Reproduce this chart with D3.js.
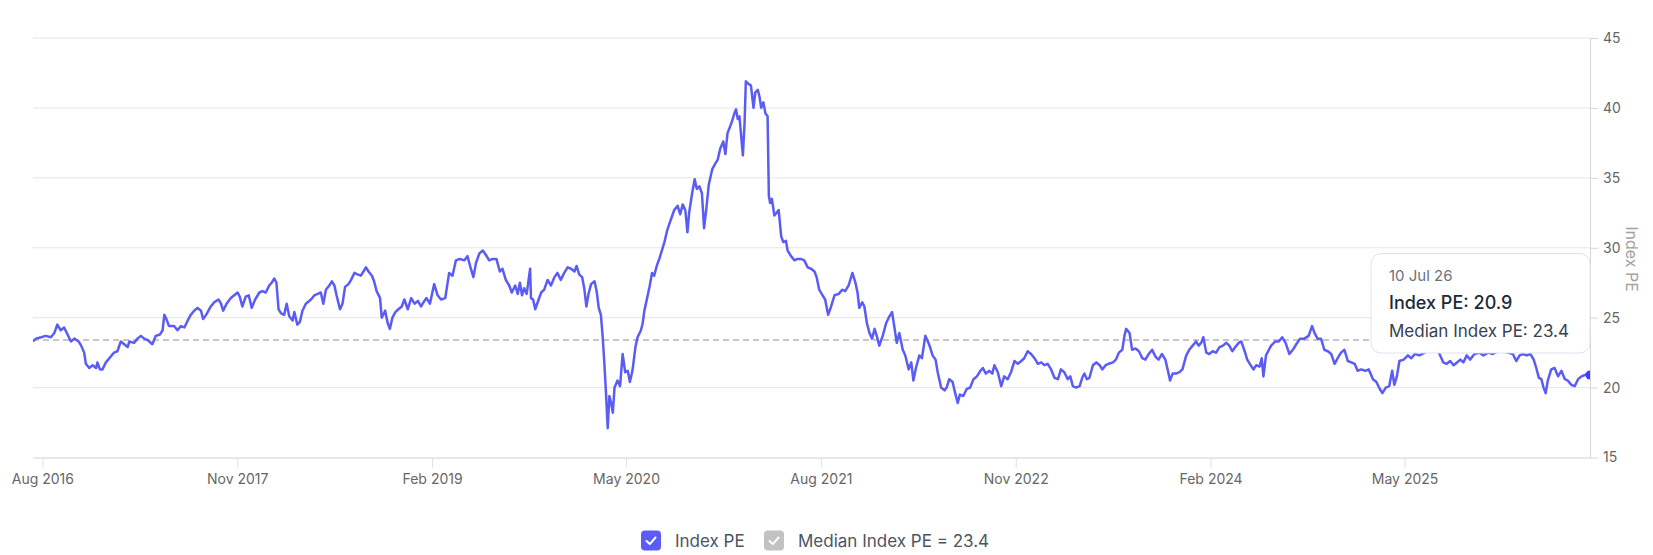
<!DOCTYPE html>
<html>
<head>
<meta charset="utf-8">
<script src="https://cdn.jsdelivr.net/npm/d3@7"></script>
<style>
    body { margin: 0; background: #fff; }
    #chart svg { display: block; font-family: Inter, "Noto Sans", sans-serif; }
</style>
</head>
<body>
<div id="chart"></div>
<script>
// Index PE (roughly weekly samples)
const peSeries = [
    ["2016-07-10",23.3],["2016-07-17",23.5],["2016-07-29",23.6],["2016-08-09",23.7],["2016-08-21",23.6],["2016-08-29",23.9],["2016-09-05",24.5],["2016-09-13",24.1],["2016-09-21",24.3],["2016-09-29",23.8],["2016-10-07",23.3],["2016-10-15",23.5],["2016-10-25",23.3],["2016-10-31",23.0],["2016-11-07",22.5],["2016-11-11",21.7],["2016-11-19",21.4],["2016-11-27",21.6],["2016-12-05",21.4],["2016-12-08",21.8],["2016-12-14",21.3],["2016-12-20",21.3],["2016-12-28",21.8],
    ["2017-01-05",22.1],["2017-01-16",22.5],["2017-01-24",22.6],["2017-02-01",23.3],["2017-02-09",23.1],["2017-02-17",22.9],["2017-02-21",23.3],["2017-03-04",23.2],["2017-03-12",23.5],["2017-03-20",23.7],["2017-03-28",23.5],["2017-04-05",23.4],["2017-04-16",23.1],["2017-04-24",23.7],["2017-05-04",23.8],["2017-05-10",24.1],["2017-05-14",25.2],["2017-05-19",24.9],["2017-05-25",24.4],["2017-06-06",24.4],["2017-06-14",24.1],["2017-06-22",24.4],["2017-06-30",24.3],["2017-07-08",24.8],["2017-07-15",25.2],["2017-07-23",25.5],["2017-07-31",25.7],["2017-08-08",25.5],["2017-08-13",24.9],["2017-08-20",25.2],["2017-08-31",25.8],["2017-09-08",26.1],["2017-09-18",26.3],["2017-09-24",26.0],["2017-09-29",25.5],["2017-10-07",26.0],["2017-10-17",26.4],["2017-10-25",26.6],["2017-11-02",26.8],["2017-11-07",26.5],["2017-11-13",25.8],["2017-11-21",26.5],["2017-11-28",26.6],["2017-12-05",25.7],["2017-12-13",26.3],["2017-12-23",26.8],["2017-12-30",26.9],
    ["2018-01-07",26.8],["2018-01-15",27.3],["2018-01-21",27.5],["2018-01-27",27.8],["2018-02-01",27.5],["2018-02-06",25.6],["2018-02-12",25.3],["2018-02-19",25.2],["2018-02-25",26.0],["2018-03-03",25.1],["2018-03-11",24.8],["2018-03-15",25.4],["2018-03-22",24.5],["2018-03-28",24.7],["2018-04-03",25.5],["2018-04-11",26.0],["2018-04-23",26.3],["2018-05-01",26.6],["2018-05-09",26.7],["2018-05-16",26.8],["2018-05-22",26.0],["2018-05-28",27.0],["2018-06-05",27.3],["2018-06-11",27.6],["2018-06-17",27.3],["2018-06-22",26.6],["2018-06-30",25.6],["2018-07-06",26.0],["2018-07-12",27.2],["2018-07-20",27.4],["2018-07-26",27.7],["2018-08-03",28.2],["2018-08-10",28.1],["2018-08-18",28.0],["2018-08-24",28.3],["2018-08-30",28.6],["2018-09-05",28.3],["2018-09-13",28.0],["2018-09-18",27.6],["2018-09-24",26.9],["2018-10-02",26.4],["2018-10-06",25.0],["2018-10-14",25.5],["2018-10-20",24.6],["2018-10-25",24.2],["2018-10-31",25.0],["2018-11-07",25.4],["2018-11-14",25.6],["2018-11-22",25.8],["2018-11-28",26.3],["2018-12-06",25.6],["2018-12-14",26.4],["2018-12-22",26.0],["2018-12-30",26.2],
    ["2019-01-06",25.8],["2019-01-14",26.2],["2019-01-19",26.4],["2019-01-27",26.0],["2019-02-06",27.4],["2019-02-14",26.6],["2019-02-22",26.3],["2019-03-04",26.4],["2019-03-13",28.2],["2019-03-21",28.0],["2019-03-29",29.1],["2019-04-07",29.2],["2019-04-18",29.1],["2019-04-25",29.4],["2019-05-03",28.5],["2019-05-09",27.9],["2019-05-15",28.9],["2019-05-23",29.6],["2019-05-31",29.8],["2019-06-07",29.5],["2019-06-15",29.1],["2019-06-23",29.2],["2019-07-02",29.2],["2019-07-10",28.3],["2019-07-16",28.5],["2019-07-24",27.7],["2019-08-01",27.3],["2019-08-07",26.8],["2019-08-15",27.3],["2019-08-21",26.7],["2019-08-26",27.5],["2019-08-31",26.6],["2019-09-05",27.1],["2019-09-11",26.7],["2019-09-19",28.5],["2019-09-21",26.4],["2019-09-26",26.3],["2019-10-01",25.6],["2019-10-09",26.3],["2019-10-15",26.8],["2019-10-22",27.0],["2019-10-30",27.7],["2019-11-07",27.3],["2019-11-15",27.9],["2019-11-22",28.2],["2019-11-30",27.7],["2019-12-08",28.2],["2019-12-16",28.6],["2019-12-24",28.5],
    ["2020-01-01",28.3],["2020-01-06",28.7],["2020-01-12",28.1],["2020-01-19",27.9],["2020-01-24",27.1],["2020-01-29",25.8],["2020-02-03",26.7],["2020-02-09",27.4],["2020-02-17",27.6],["2020-02-22",26.9],["2020-02-27",25.7],["2020-03-03",25.2],["2020-03-07",23.7],["2020-03-11",21.8],["2020-03-15",19.6],["2020-03-19",17.1],["2020-03-23",19.4],["2020-03-27",18.9],["2020-03-31",18.2],["2020-04-04",20.0],["2020-04-11",20.5],["2020-04-17",20.1],["2020-04-23",22.4],["2020-04-29",21.1],["2020-05-05",21.2],["2020-05-10",20.4],["2020-05-16",21.2],["2020-05-23",22.9],["2020-05-28",23.6],["2020-06-05",24.1],["2020-06-09",24.6],["2020-06-13",25.5],["2020-06-18",26.2],["2020-06-25",27.2],["2020-07-01",28.2],["2020-07-06",28.0],["2020-07-12",28.7],["2020-07-18",29.2],["2020-07-24",29.8],["2020-07-30",30.4],["2020-08-06",31.3],["2020-08-14",32.0],["2020-08-22",32.7],["2020-08-30",33.0],["2020-09-05",32.4],["2020-09-11",33.1],["2020-09-17",32.7],["2020-09-22",31.1],["2020-09-26",32.5],["2020-10-03",33.9],["2020-10-09",34.9],["2020-10-14",34.2],["2020-10-20",34.4],["2020-10-26",33.9],["2020-10-31",31.4],["2020-11-05",32.7],["2020-11-11",34.5],["2020-11-19",35.6],["2020-11-26",36.0],["2020-12-02",36.3],["2020-12-08",37.1],["2020-12-15",37.6],["2020-12-20",36.7],["2020-12-25",38.2],
    ["2021-01-03",38.9],["2021-01-10",39.6],["2021-01-14",39.9],["2021-01-18",39.2],["2021-01-22",39.4],["2021-01-26",38.0],["2021-01-30",36.6],["2021-02-03",38.9],["2021-02-06",41.9],["2021-02-13",41.7],["2021-02-18",41.6],["2021-02-24",40.0],["2021-02-28",41.1],["2021-03-06",41.3],["2021-03-10",40.8],["2021-03-14",40.0],["2021-03-19",40.4],["2021-03-24",39.6],["2021-03-29",39.4],["2021-04-01",33.7],["2021-04-04",33.2],["2021-04-08",33.5],["2021-04-14",32.3],["2021-04-19",32.5],["2021-04-24",32.7],["2021-04-30",30.8],["2021-05-05",30.4],["2021-05-11",30.5],["2021-05-15",29.8],["2021-05-23",29.4],["2021-05-31",29.1],["2021-06-07",29.2],["2021-06-15",29.2],["2021-06-23",29.1],["2021-07-01",28.6],["2021-07-09",28.5],["2021-07-17",28.3],["2021-07-22",27.9],["2021-07-28",27.0],["2021-08-05",26.6],["2021-08-11",26.3],["2021-08-18",25.2],["2021-08-25",25.8],["2021-09-02",26.6],["2021-09-12",26.7],["2021-09-20",27.0],["2021-09-27",26.9],["2021-10-05",27.3],["2021-10-14",28.2],["2021-10-21",27.5],["2021-10-26",26.8],["2021-10-30",25.7],["2021-11-06",26.1],["2021-11-11",25.8],["2021-11-17",24.6],["2021-11-23",23.9],["2021-11-29",23.5],["2021-12-05",24.2],["2021-12-10",23.7],["2021-12-16",23.0],["2021-12-24",23.7],
    ["2022-01-01",24.6],["2022-01-07",25.0],["2022-01-15",25.4],["2022-01-20",24.4],["2022-01-26",23.2],["2022-02-01",23.9],["2022-02-09",22.7],["2022-02-15",22.3],["2022-02-23",21.3],["2022-03-01",21.8],["2022-03-06",20.5],["2022-03-12",21.4],["2022-03-20",22.3],["2022-03-26",22.1],["2022-04-03",23.7],["2022-04-09",23.3],["2022-04-14",22.9],["2022-04-20",22.3],["2022-04-27",22.0],["2022-05-02",21.1],["2022-05-10",20.0],["2022-05-18",19.8],["2022-05-23",20.0],["2022-05-29",20.6],["2022-06-06",20.4],["2022-06-12",19.6],["2022-06-18",18.9],["2022-06-23",19.5],["2022-07-01",19.4],["2022-07-09",19.9],["2022-07-17",20.0],["2022-07-25",20.6],["2022-08-02",20.8],["2022-08-10",21.2],["2022-08-16",21.4],["2022-08-23",21.0],["2022-08-31",21.2],["2022-09-07",21.0],["2022-09-12",21.6],["2022-09-20",21.1],["2022-09-28",20.1],["2022-10-05",20.8],["2022-10-13",20.6],["2022-10-21",21.1],["2022-10-29",21.9],["2022-11-06",21.7],["2022-11-14",21.9],["2022-11-21",22.1],["2022-11-29",22.6],["2022-12-07",22.4],["2022-12-15",22.1],["2022-12-23",21.7],["2022-12-31",21.8],
    ["2023-01-07",21.6],["2023-01-15",21.7],["2023-01-23",21.3],["2023-01-31",20.7],["2023-02-08",20.6],["2023-02-15",21.3],["2023-02-23",21.1],["2023-03-03",20.6],["2023-03-09",20.8],["2023-03-15",20.1],["2023-03-23",20.0],["2023-03-31",20.1],["2023-04-06",20.7],["2023-04-11",21.0],["2023-04-17",20.6],["2023-04-23",20.7],["2023-05-01",21.6],["2023-05-09",21.8],["2023-05-17",21.6],["2023-05-23",21.3],["2023-05-31",21.6],["2023-06-07",21.7],["2023-06-17",21.8],["2023-06-24",22.0],["2023-07-01",22.5],["2023-07-09",22.7],["2023-07-14",23.7],["2023-07-18",24.2],["2023-07-26",23.9],["2023-08-01",22.7],["2023-08-09",22.8],["2023-08-17",22.6],["2023-08-25",22.1],["2023-09-01",22.0],["2023-09-09",22.4],["2023-09-17",22.7],["2023-09-25",22.2],["2023-10-02",22.0],["2023-10-10",22.4],["2023-10-18",22.0],["2023-10-24",21.2],["2023-10-29",20.5],["2023-11-04",21.0],["2023-11-12",21.0],["2023-11-20",21.1],["2023-11-27",21.3],["2023-12-06",22.3],["2023-12-13",22.7],["2023-12-21",23.0],["2023-12-29",23.3],
    ["2024-01-04",23.0],["2024-01-10",23.2],["2024-01-15",23.6],["2024-01-22",22.5],["2024-01-29",22.4],["2024-02-06",22.6],["2024-02-14",22.5],["2024-02-22",22.9],["2024-03-01",23.0],["2024-03-09",23.2],["2024-03-16",23.0],["2024-03-23",22.6],["2024-03-30",22.9],["2024-04-07",23.2],["2024-04-13",23.3],["2024-04-21",22.6],["2024-04-27",22.0],["2024-05-05",21.6],["2024-05-12",21.3],["2024-05-18",21.6],["2024-05-26",21.5],["2024-05-31",22.1],["2024-06-04",20.8],["2024-06-10",22.3],["2024-06-22",23.0],["2024-07-02",23.3],["2024-07-10",23.3],["2024-07-18",23.6],["2024-07-26",23.2],["2024-08-04",22.4],["2024-08-12",22.7],["2024-08-20",23.1],["2024-08-29",23.5],["2024-09-08",23.5],["2024-09-18",23.7],["2024-09-26",24.4],["2024-10-02",23.9],["2024-10-09",23.5],["2024-10-17",23.5],["2024-10-25",22.7],["2024-11-02",22.6],["2024-11-10",22.4],["2024-11-18",21.7],["2024-11-25",22.1],["2024-12-03",22.5],["2024-12-11",22.7],["2024-12-19",21.9],["2024-12-27",21.8],
    ["2025-01-04",21.7],["2025-01-11",21.2],["2025-01-19",21.3],["2025-01-29",21.2],["2025-02-06",21.3],["2025-02-16",20.6],["2025-02-24",20.4],["2025-03-04",19.9],["2025-03-10",19.6],["2025-03-18",20.0],["2025-03-26",20.1],["2025-04-02",21.2],["2025-04-07",20.2],["2025-04-13",20.8],["2025-04-19",21.9],["2025-04-29",22.0],["2025-05-09",22.3],["2025-05-17",22.1],["2025-05-25",22.4],["2025-06-05",22.3],["2025-06-17",22.5],["2025-06-25",22.7],["2025-07-06",22.9],["2025-07-14",23.0],["2025-07-22",22.4],["2025-07-31",21.8],["2025-08-08",21.7],["2025-08-16",21.9],["2025-08-24",21.6],["2025-09-01",21.8],["2025-09-09",22.0],["2025-09-16",21.8],["2025-09-24",22.3],["2025-10-02",22.0],["2025-10-12",22.4],["2025-10-24",22.5],["2025-11-02",22.3],["2025-11-13",22.5],["2025-11-24",22.4],["2025-12-06",22.6],["2025-12-18",22.7],["2025-12-29",22.5],
    ["2026-01-10",22.4],["2026-01-18",21.9],["2026-01-26",22.3],["2026-02-03",22.4],["2026-02-11",22.3],["2026-02-20",22.4],["2026-02-28",22.0],["2026-03-06",21.4],["2026-03-12",20.7],["2026-03-18",20.6],["2026-03-23",20.0],["2026-03-28",19.6],["2026-04-02",20.5],["2026-04-10",21.3],["2026-04-18",21.4],["2026-04-26",20.8],["2026-05-04",21.2],["2026-05-12",20.6],["2026-05-19",20.5],["2026-05-27",20.2],["2026-06-04",20.1],["2026-06-12",20.6],["2026-06-20",20.8],["2026-06-28",20.9],["2026-07-04",21.0],["2026-07-10",20.9]
];
const medianPE = 23.4;
const dateRange = ["2016-07-10", "2026-07-10"];
const xTickLabels = ["Aug 2016", "Nov 2017", "Feb 2019", "May 2020", "Aug 2021", "Nov 2022", "Feb 2024", "May 2025"];
const yTicks = [15, 20, 25, 30, 35, 40, 45];
const legendItems = [
    { label: "Index PE", color: "#5b5cf6" },
    { label: `Median Index PE = ${medianPE}`, color: "#c2c2c2" }
];

(function drawChart() {
    const width = 1653;
    const height = 555;
    const plot = { left: 33, right: 1590, top: 38, bottom: 457.5 };
    const lineColor = "#5b5cf6";

    const parseDay = d3.timeParse("%Y-%m-%d");
    const parseTick = d3.timeParse("%b %Y");
    const data = peSeries.map(([d, v]) => ({ date: parseDay(d), value: v }));

    const svg = d3.select("#chart").append("svg")
        .attr("width", width)
        .attr("height", height);

    const x = d3.scaleTime()
        .domain(dateRange.map(parseDay))
        .range([plot.left, plot.right]);
    const y = d3.scaleLinear()
        .domain([15, 45])
        .range([plot.bottom, plot.top]);

    svg.append("defs").append("clipPath")
        .attr("id", "plot-clip")
        .append("rect")
        .attr("x", plot.left)
        .attr("y", plot.top - 10)
        .attr("width", plot.right - plot.left)
        .attr("height", plot.bottom - plot.top + 10);

    // horizontal grid
    svg.append("g")
        .selectAll("line")
        .data(yTicks.filter(t => t !== 15))
        .join("line")
        .attr("x1", plot.left)
        .attr("x2", plot.right)
        .attr("y1", d => y(d))
        .attr("y2", d => y(d))
        .attr("stroke", "#e6e6e6")
        .attr("stroke-width", 1);

    // x axis
    const xAxis = svg.append("g")
        .attr("transform", `translate(0,${plot.bottom})`)
        .call(d3.axisBottom(x)
            .tickValues(xTickLabels.map(parseTick))
            .tickFormat(d3.timeFormat("%b %Y"))
            .tickSize(10)
            .tickSizeOuter(0)
            .tickPadding(6.5));
    xAxis.select(".domain").attr("stroke", "#cfcfcf");
    xAxis.selectAll(".tick line").attr("stroke", "#e0e0e0");
    xAxis.selectAll(".tick text")
        .attr("fill", "#666")
        .attr("font-size", 14)
        .attr("font-family", "Inter, sans-serif");

    // y axis on the right
    const yAxis = svg.append("g")
        .attr("transform", `translate(${plot.right},0)`)
        .call(d3.axisRight(y)
            .tickValues(yTicks)
            .tickSize(8)
            .tickSizeOuter(0)
            .tickPadding(5));
    yAxis.select(".domain").attr("stroke", "#d6d6d6");
    yAxis.selectAll(".tick line").attr("stroke", "#d6d6d6");
    yAxis.selectAll(".tick text")
        .attr("fill", "#666")
        .attr("font-size", 14)
        .attr("font-family", "Inter, sans-serif");

    svg.append("text")
        .attr("transform", `translate(1626,259) rotate(90)`)
        .attr("text-anchor", "middle")
        .attr("fill", "#a3a3a3")
        .attr("font-size", 16)
        .text("Index PE");

    // median reference line
    svg.append("line")
        .attr("x1", plot.left)
        .attr("x2", plot.right)
        .attr("y1", y(medianPE))
        .attr("y2", y(medianPE))
        .attr("stroke", "#b5b5b5")
        .attr("stroke-width", 1.5)
        .attr("stroke-dasharray", "6,4");

    const line = d3.line()
        .x(d => x(d.date))
        .y(d => y(d.value));

    const plotG = svg.append("g").attr("clip-path", "url(#plot-clip)");
    plotG.append("path")
        .datum(data)
        .attr("fill", "none")
        .attr("stroke", lineColor)
        .attr("stroke-width", 2.5)
        .attr("stroke-linejoin", "round")
        .attr("d", line);

    const last = data[data.length - 1];
    plotG.append("circle")
        .attr("cx", x(last.date))
        .attr("cy", y(last.value))
        .attr("r", 4.5)
        .attr("fill", "#3d3df2");

    // tooltip for the last point
    const tip = svg.append("g").attr("transform", "translate(1371,253.5)");
    tip.append("rect")
        .attr("width", 219)
        .attr("height", 99.5)
        .attr("rx", 10)
        .attr("fill", "#fff")
        .attr("stroke", "#dde3ee")
        .attr("stroke-width", 1);
    tip.append("text")
        .attr("x", 18)
        .attr("y", 27.5)
        .attr("font-size", 15)
        .attr("fill", "#6b7280")
        .text(d3.timeFormat("%d %b %y")(last.date));
    tip.append("text")
        .attr("x", 18)
        .attr("y", 55)
        .attr("font-size", 18)
        .attr("font-weight", 500)
        .attr("fill", "#1f2937")
        .text(`Index PE: ${last.value.toFixed(1)}`);
    tip.append("text")
        .attr("x", 18)
        .attr("y", 83)
        .attr("font-size", 17)
        .attr("fill", "#374151")
        .text(`Median Index PE: ${medianPE}`);

    // legend
    const legendX = [641, 764];
    const leg = svg.append("g")
        .selectAll("g")
        .data(legendItems)
        .join("g")
        .attr("transform", (d, i) => `translate(${legendX[i]},530.5)`);
    leg.append("rect")
        .attr("width", 20)
        .attr("height", 20)
        .attr("rx", 4)
        .attr("fill", d => d.color);
    leg.append("path")
        .attr("d", "M5.5 10.5 L8.8 13.6 L14.5 7")
        .attr("fill", "none")
        .attr("stroke", "#fff")
        .attr("stroke-width", 2)
        .attr("stroke-linecap", "round")
        .attr("stroke-linejoin", "round");
    leg.append("text")
        .attr("x", 34)
        .attr("y", 16.5)
        .attr("font-size", 17)
        .attr("fill", "#4b5563")
        .text(d => d.label);
}());
</script>
</body>
</html>
